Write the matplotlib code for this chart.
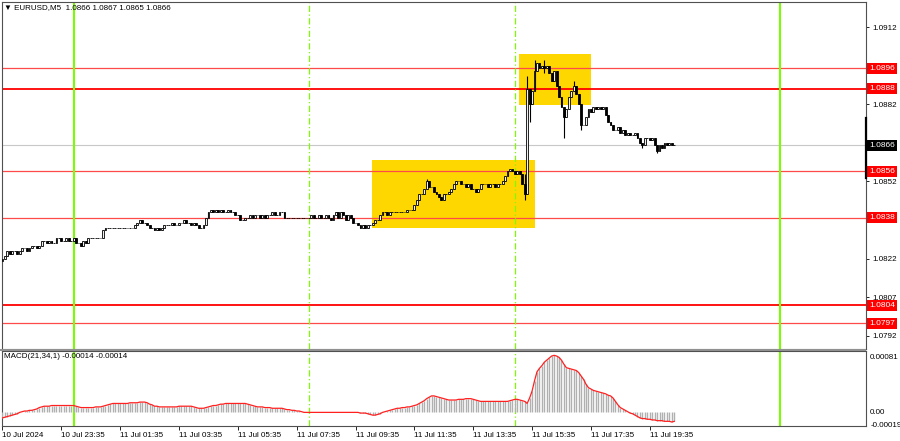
import numpy as np
import matplotlib.pyplot as plt
from matplotlib.patches import Rectangle
from matplotlib.lines import Line2D

plt.rcParams['font.family'] = ['Liberation Sans', 'DejaVu Sans']

# EURUSD M5 closes, bar 0 = 10 Jul 21:35 (one row = one hour)
closes = [
    1.0822, 1.0823, 1.0825, 1.0824, 1.0825, 1.0825, 1.0824, 1.0825, 1.0826, 1.0826, 1.0825, 1.0826,
    1.0827, 1.0827, 1.0826, 1.0827, 1.0829, 1.0829, 1.0828, 1.0829, 1.0828, 1.0828, 1.0830, 1.0830,
    1.0829, 1.0829, 1.0830, 1.0829, 1.0829, 1.0830, 1.0828, 1.0828, 1.0827, 1.0829, 1.0828, 1.0830,
    1.0830, 1.0830, 1.0830, 1.0830, 1.0830, 1.0833, 1.0834, 1.0834, 1.0834, 1.0834, 1.0834, 1.0834,
    1.0834, 1.0834, 1.0834, 1.0834, 1.0834, 1.0834, 1.0835, 1.0836, 1.0837, 1.0836, 1.0836, 1.0835,
    1.0834, 1.0834, 1.0833, 1.0834, 1.0833, 1.0834, 1.0835, 1.0835, 1.0835, 1.0836, 1.0835, 1.0835,
    1.0836, 1.0836, 1.0837, 1.0836, 1.0836, 1.0835, 1.0836, 1.0835, 1.0834, 1.0834, 1.0835, 1.0838,
    1.0840, 1.0841, 1.0840, 1.0841, 1.0840, 1.0841, 1.0840, 1.0840, 1.0841, 1.0840, 1.0840, 1.0839,
    1.0839, 1.0837, 1.0837, 1.0838, 1.0838, 1.0839, 1.0838, 1.0839, 1.0839, 1.0838, 1.0839, 1.0838,
    1.0839, 1.0839, 1.0840, 1.0839, 1.0839, 1.0840, 1.0840, 1.0838, 1.0838, 1.0838, 1.0838, 1.0838,
    1.0838, 1.0838, 1.0838, 1.0838, 1.0838, 1.0838, 1.0839, 1.0838, 1.0838, 1.0839, 1.0838, 1.0838,
    1.0839, 1.0838, 1.0837, 1.0839, 1.0840, 1.0838, 1.0840, 1.0839, 1.0837, 1.0839, 1.0838, 1.0836,
    1.0836, 1.0835, 1.0834, 1.0835, 1.0834, 1.0835, 1.0835, 1.0836, 1.0837, 1.0837, 1.0839, 1.0840,
    1.0840, 1.0839, 1.0840, 1.0840, 1.0840, 1.0840, 1.0840, 1.0840, 1.0840, 1.0841, 1.0841, 1.0841,
    1.0843, 1.0845, 1.0847, 1.0847, 1.0849, 1.0852, 1.0850, 1.0850, 1.0848, 1.0847, 1.0846, 1.0845,
    1.0847, 1.0847, 1.0848, 1.0849, 1.0851, 1.0852, 1.0852, 1.0851, 1.0851, 1.0850, 1.0851, 1.0849,
    1.0849, 1.0848, 1.0849, 1.0851, 1.0851, 1.0851, 1.0850, 1.0851, 1.0851, 1.0850, 1.0851, 1.0851,
    1.0852, 1.0854, 1.0856, 1.0857, 1.0856, 1.0855, 1.0856, 1.0855, 1.0851, 1.0847, 1.0888, 1.0882,
    1.0887, 1.0895, 1.0898, 1.0896, 1.0897, 1.0896, 1.0897, 1.0894, 1.0891, 1.0895, 1.0889, 1.0885,
    1.0881, 1.0877, 1.0880, 1.0885, 1.0887, 1.0889, 1.0886, 1.0882, 1.0874, 1.0874, 1.0877, 1.0880,
    1.0879, 1.0881, 1.0880, 1.0881, 1.0880, 1.0881, 1.0878, 1.0875, 1.0874, 1.0872, 1.0872, 1.0873,
    1.0871, 1.0872, 1.0870, 1.0871, 1.0870, 1.0870, 1.0871, 1.0869, 1.0867, 1.0866, 1.0869, 1.0869,
    1.0868, 1.0869, 1.0866, 1.0864, 1.0866, 1.0865, 1.0867, 1.0866, 1.0867, 1.0866, 1.0866,
]
first_open = 1.0821
# bars with long wicks: bar -> (high, low)
wicks = {173: (1.0853, 1.0849), 213: (1.0855, 1.0845), 214: (1.0893, 1.0847),
         215: (1.0888, 1.0875), 217: (1.0899, 1.0887), 221: (1.0899, 1.0894),
         229: (1.0881, 1.0869), 233: (1.0891, 1.0887), 236: (1.0882, 1.0872),
         261: (1.0867, 1.0865), 267: (1.0866, 1.0863)}

# MACD(21,34,1) per bar, in 1e-5
macd_e5 = [
    -9, -8, -7, -6, -5, -4, -3, -1, 0, 1, 1, 2,
    2, 3, 4, 6, 7, 8, 8, 8, 9, 9, 9, 9,
    9, 9, 9, 9, 9, 9, 8, 7, 6, 6, 6, 6,
    6, 6, 7, 7, 7, 8, 9, 10, 11, 12, 12, 12,
    12, 12, 12, 12, 13, 13, 13, 13, 14, 14, 14, 13,
    11, 10, 8, 8, 7, 7, 7, 7, 7, 7, 7, 7,
    8, 8, 8, 8, 8, 8, 7, 6, 5, 5, 5, 6,
    7, 8, 9, 9, 10, 11, 11, 12, 12, 12, 12, 12,
    12, 12, 12, 12, 11, 10, 9, 8, 7, 7, 7, 6,
    6, 6, 5, 5, 5, 5, 5, 4, 3, 3, 2, 2,
    1, 1, 0, -1, -1, -1, -1, -1, -1, -1, -1, -1,
    -1, -1, -1, -1, -1, -1, -1, -1, -1, -1, -1, -1,
    -1, -1, -2, -2, -2, -3, -4, -5, -5, -4, -3, -1,
    0, 1, 2, 3, 4, 5, 5, 6, 6, 7, 7, 8,
    9, 10, 12, 14, 16, 19, 21, 23, 23, 22, 21, 20,
    19, 18, 17, 17, 17, 17, 18, 18, 18, 19, 19, 19,
    18, 17, 16, 15, 15, 15, 15, 15, 15, 15, 15, 15,
    15, 15, 15, 16, 17, 18, 18, 17, 16, 15, 12, 20,
    30, 45, 58, 63, 67, 72, 75, 78, 81, 82, 81, 79,
    75, 69, 64, 63, 62, 61, 60, 57, 52, 47, 40, 35,
    33, 31, 30, 29, 28, 27, 26, 24, 23, 20, 15, 10,
    6, 4, 2, 0, -2, -3, -5, -7, -9, -10, -10, -11,
    -11, -12, -12, -13, -13, -13, -14, -14, -14, -15, -14,
]

tick_bars = [0, 24, 48, 72, 96, 120, 144, 168, 192, 216, 240, 264]
tick_labels = ['10 Jul 2024', '10 Jul 23:35', '11 Jul 01:35', '11 Jul 03:35', '11 Jul 05:35',
               '11 Jul 07:35', '11 Jul 09:35', '11 Jul 11:35', '11 Jul 13:35', '11 Jul 15:35',
               '11 Jul 17:35', '11 Jul 19:35']
price_ticks = [1.0792, 1.0807, 1.0822, 1.0837, 1.0852, 1.0867, 1.0882, 1.0897, 1.0912]
price_tick_labels = ['1.0792', '1.0807', '1.0822', '1.0837', '1.0852', '', '1.0882', '', '1.0912']
levels = [1.0896, 1.0888, 1.0856, 1.0838, 1.0804, 1.0797]
strong = [False, True, False, False, True, False]
last_price = 1.0866
zones = [(151, 217, 1.08339, 1.08604), (211, 240, 1.08817, 1.09015)]
day_lines = [29, 317]
session_lines = [125, 209]

W, H = 900, 441
fig = plt.figure(figsize=(9, 4.41), dpi=100)
ax = fig.add_axes([2 / W, (H - 349) / H, 864 / W, 347 / H])
ax2 = fig.add_axes([2 / W, (H - 426) / H, 864 / W, 75 / H])

n = len(closes)
idx = np.arange(n)
c = np.array(closes)
o = np.r_[first_open, c[:-1]]
hi = np.maximum(o, c)
lo = np.minimum(o, c)
for b, (h, l) in wicks.items():
    hi[b] = max(hi[b], h)
    lo[b] = min(lo[b], l)

# zones
for a, b, y0, y1 in zones:
    ax.add_patch(Rectangle((a - 0.2, y0), b - a + 0.4, y1 - y0, fc='#ffd700', ec='none', zorder=1))

ax.axhline(last_price, color='#c8c8c8', lw=0.8, zorder=2)
for lv, s in zip(levels, strong):
    ax.axhline(lv, color='#ff0000' if s else '#ff4a4a', lw=1.3 if s else 0.9, zorder=2)

for x in day_lines:
    for a in (ax, ax2):
        a.axvline(x, color='#7cfc00', lw=1.5, zorder=2)
for x in session_lines:
    for a in (ax, ax2):
        a.axvline(x, color='#7cfc00', lw=0.9, ls=(0, (5, 2, 1, 2)), zorder=2)

# candles
ax.vlines(idx, lo, hi, color='black', lw=0.8, zorder=3)
up = c >= o
ax.bar(idx[up], (c - o)[up], bottom=o[up], width=0.75, color='#f0f0f0', edgecolor='black', lw=0.6, zorder=4)
ax.bar(idx[~up], (o - c)[~up], bottom=c[~up], width=0.75, color='black', edgecolor='black', lw=0.6, zorder=4)

ax.set_xlim(-0.2, 352.2)
ax.set_ylim(1.078695, 1.092171)
ax.set_xticks([])
ax.yaxis.tick_right()
ax.set_yticks(price_ticks)
ax.set_yticklabels(price_tick_labels)
ax.tick_params(axis='y', length=2.5, width=0.6, labelsize=5.8, pad=2, colors='black')

lab = dict(transform=ax.get_yaxis_transform(), ha='left', va='center', fontsize=6,
           color='white', clip_on=False, zorder=10)
for lv in levels:
    ax.text(1.004, lv, '%.4f' % lv, bbox=dict(boxstyle='square,pad=0.25', fc='#ff0000', ec='none'), **lab)
ax.text(1.004, last_price, '%.4f' % last_price, bbox=dict(boxstyle='square,pad=0.25', fc='black', ec='none'), **lab)

# MACD
macd = np.array(macd_e5) * 1e-5
ax2.vlines(idx, 0, macd, color='#b0b0b0', lw=1.0, zorder=3)
ax2.plot(idx, macd, color='#ff2020', lw=0.9, zorder=4)
ax2.set_xlim(-0.2, 352.2)
ax2.set_ylim(-0.000208, 0.000883)
ax2.yaxis.tick_right()
ax2.set_yticks([0.00081, 0.0, -0.00019])
ax2.set_yticklabels(['0.00081', '0.00', '-0.00019'])
ax2.tick_params(axis='y', length=0, labelsize=5.8, pad=3, colors='black')
ax2.set_xticks(tick_bars)
ax2.set_xticklabels(tick_labels)
ax2.tick_params(axis='x', length=3, width=0.6, labelsize=5.8, pad=1.5, colors='black')
plt.setp(ax2.get_xticklabels(), ha='left')

for a in (ax, ax2):
    for sp in a.spines.values():
        sp.set_color('#505050')
        sp.set_linewidth(0.8)

fig.add_artist(Rectangle((0, (H - 351) / H), 866 / W, 2 / H, transform=fig.transFigure,
                         fc='#909090', ec='none'))
fig.add_artist(Line2D([865.5 / W] * 2, [(H - 118) / H, (H - 178) / H], color='black', lw=1.6))

fig.text(4 / W, (H - 8) / H, '\u25bc EURUSD,M5  1.0866 1.0867 1.0865 1.0866',
         fontsize=5.8, va='center', ha='left', color='black')
fig.text(4 / W, (H - 357) / H, 'MACD(21,34,1) -0.00014 -0.00014',
         fontsize=5.8, va='center', ha='left', color='black')

fig.savefig('out.png', dpi=100)
